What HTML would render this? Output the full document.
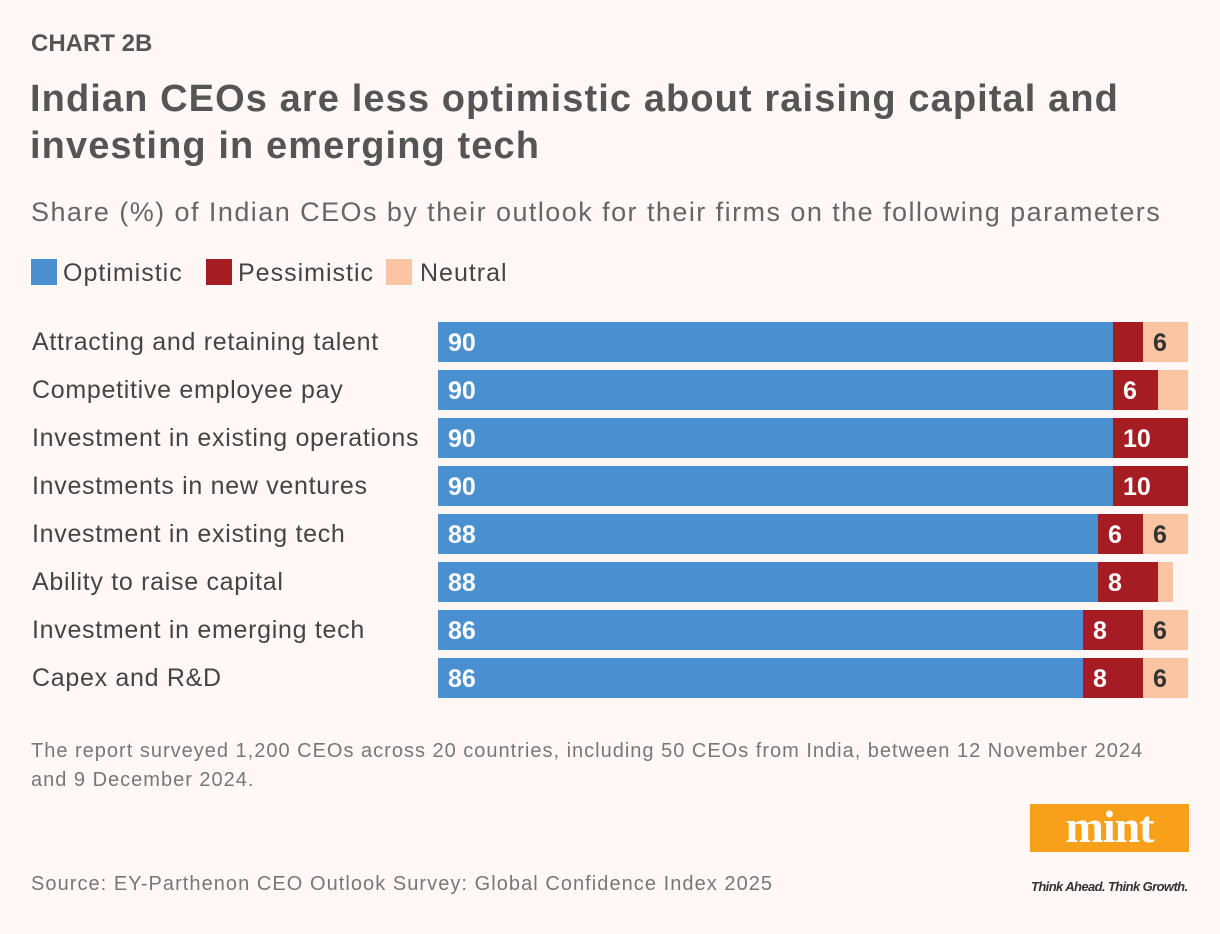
<!DOCTYPE html>
<html><head><meta charset="utf-8"><style>
body{margin:0;background:#fff8f6;font-family:"Liberation Sans",sans-serif;}
#wrap{position:relative;width:1220px;height:934px;overflow:hidden;background:#fff8f6;}
.t{position:absolute;white-space:nowrap;}
</style></head><body>
<div id="wrap">
<div class="t" style="left:31px;top:30px;font-size:24px;font-weight:bold;color:#555;">CHART 2B</div>
<div class="t" style="left:30px;top:76px;font-size:38px;font-weight:bold;color:#555;line-height:47px;letter-spacing:1.1px;">Indian CEOs are less optimistic about raising capital and<br>investing in emerging tech</div>
<div class="t" style="left:31px;top:197px;font-size:27px;color:#666;letter-spacing:1.45px;">Share (%) of Indian CEOs by their outlook for their firms on the following parameters</div>
<div>
<div class="t" style="left:31px;top:259px;font-size:25px;color:#444;letter-spacing:1px;"><span style="display:inline-block;width:26px;height:26px;background:#4a90d0;vertical-align:-4px;margin-right:6px"></span>Optimistic</div>
<div class="t" style="left:206px;top:259px;font-size:25px;color:#444;letter-spacing:1px;"><span style="display:inline-block;width:26px;height:26px;background:#a51d23;vertical-align:-4px;margin-right:6px"></span>Pessimistic</div>
<div class="t" style="left:386px;top:259px;font-size:25px;color:#444;letter-spacing:1px;"><span style="display:inline-block;width:26px;height:26px;background:#fbc4a3;vertical-align:-4px;margin-right:8px"></span>Neutral</div>
</div>
<svg id="chart" width="1220" height="934" style="position:absolute;left:0;top:0"></svg>
<div class="t" style="left:31px;top:737px;font-size:20px;color:#777;line-height:29px;letter-spacing:1px;">The report surveyed 1,200 CEOs across 20 countries, including 50 CEOs from India, between 12 November 2024<br>and 9 December 2024.</div>
<div class="t" style="left:31px;top:873px;font-size:20px;color:#777;letter-spacing:1.05px;">Source: EY-Parthenon CEO Outlook Survey: Global Confidence Index 2025</div>
<div style="position:absolute;left:1030px;top:804px;width:159px;height:48px;background:#f9a01b;color:#fff;font-family:'Liberation Serif',serif;font-weight:bold;font-size:46px;text-align:center;line-height:46px;letter-spacing:-1px;">mint</div>
<div class="t" style="left:1031px;top:879px;font-size:13px;font-style:italic;font-weight:bold;color:#333;letter-spacing:-0.6px;">Think Ahead. Think Growth.</div>
</div>
<script>
const categories=["Attracting and retaining talent","Competitive employee pay","Investment in existing operations","Investments in new ventures","Investment in existing tech","Ability to raise capital","Investment in emerging tech","Capex and R&D"];
const optimistic=[90,90,90,90,88,88,86,86];
const pessimistic=[4,6,10,10,6,8,8,8];
const neutral=[6,4,0,0,6,2,6,6];
const svg=document.getElementById('chart');
const NS='http://www.w3.org/2000/svg';
const x0=438,xw=750,y0=322,step=48,bh=40;
const xs=v=>v/100*xw;
function rect(x,y,w,h,c,name){const r=document.createElementNS(NS,'rect');r.setAttribute('x',x);r.setAttribute('y',y);r.setAttribute('width',w);r.setAttribute('height',h);r.setAttribute('fill',c);


svg.appendChild(r);}
function text(x,y,s,c,size,weight,name,ls){const t=document.createElementNS(NS,'text');t.setAttribute('x',x);t.setAttribute('y',y);t.setAttribute('fill',c);t.setAttribute('font-size',size);t.setAttribute('font-weight',weight);t.setAttribute('letter-spacing',ls);t.setAttribute('font-family','Liberation Sans, sans-serif');t.textContent=s;


svg.appendChild(t);}
categories.forEach((c,i)=>{
 const y=y0+i*step;
 text(32,y+28,c,'#444',25,'normal','category-label',0.7);
 let x=x0;
 const segs=[[optimistic[i],'#4a90d0','#fff','bar-optimistic'],[pessimistic[i],'#a51d23','#fff','bar-pessimistic'],[neutral[i],'#fbc4a3','#333','bar-neutral']];
 segs.forEach(([v,col,tc,nm])=>{
  if(v<=0)return;
  const w=xs(v);
  rect(x,y,w,bh,col,nm);
  if(v>=5) text(x+10,y+29,String(v),tc,25,'bold','value-label',0);
  x+=w;
 });
});
</script>
</body></html>
